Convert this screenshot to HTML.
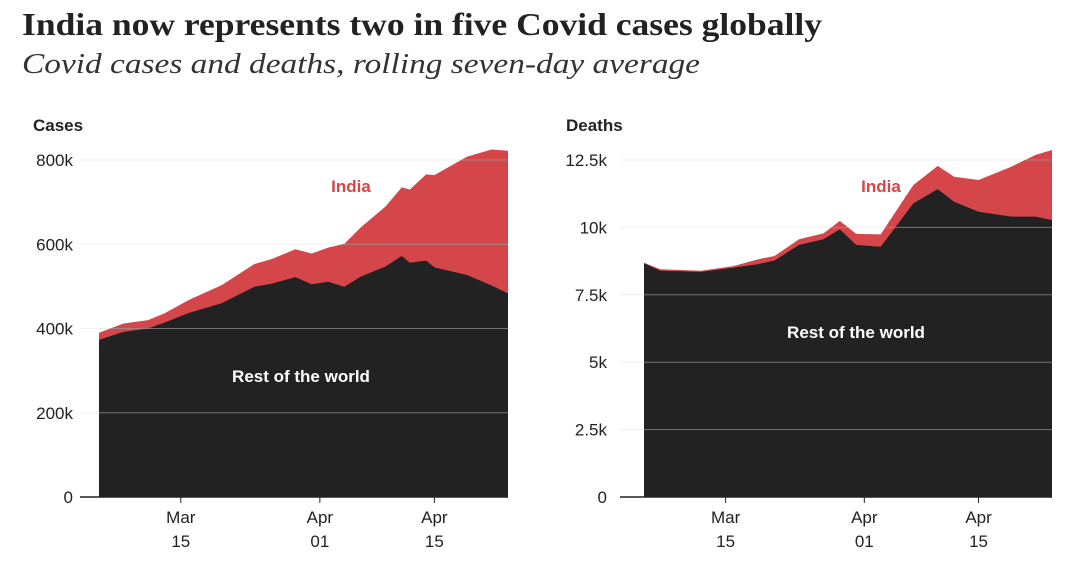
<!DOCTYPE html>
<html><head><meta charset="utf-8"><style>
body{margin:0;background:#fff;width:1080px;height:582px;overflow:hidden}
svg{display:block}
.t{font-family:"Liberation Serif",serif}
.a{font-family:"Liberation Sans",sans-serif;font-size:17px;fill:#222}
</style></head><body>
<svg id="s" width="1080" height="582">
<text class="t" x="22" y="35" font-size="32" font-weight="bold" fill="#222" textLength="800" lengthAdjust="spacingAndGlyphs">India now represents two in five Covid cases globally</text>
<text class="t" x="22" y="73" font-size="29" font-style="italic" fill="#333" textLength="678" lengthAdjust="spacingAndGlyphs">Covid cases and deaths, rolling seven-day average</text>
</svg>
<script>
// Day 0 = Mar 5
const casesDays=[0,3,6,8,11,15,19,21,24,26,28,30,32,35,37,38,40,41,45,48,50];
const casesRest=[373,392,400,414,437,460,499,506,522,505,511,499,523,547,572,556,561,545,527,502,483];
const casesTotal=[390,412,420,436,468,503,553,564,588,578,592,601,640,689,735,730,766,764,808,825,822];
const casesTicks=[0,200,400,600,800];
const casesTickLabels=["0","200k","400k","600k","800k"];
const deathsDays=[0,2,7,11,14,16,19,22,24,26,29,33,36,38,41,45,48,50];
const deathsRest=[8.67,8.39,8.35,8.51,8.64,8.77,9.35,9.56,9.93,9.35,9.28,10.89,11.42,10.95,10.58,10.40,10.40,10.27];
const deathsTotal=[8.69,8.45,8.39,8.57,8.82,8.94,9.56,9.78,10.24,9.76,9.74,11.57,12.28,11.88,11.76,12.25,12.69,12.87];
const deathsTicks=[0,2.5,5,7.5,10,12.5];
const deathsTickLabels=["0","2.5k","5k","7.5k","10k","12.5k"];
const dateDays=[10,27,41];
const dateLabels=[["Mar","15"],["Apr","01"],["Apr","15"]];

const svg=document.getElementById('s');
const NS="http://www.w3.org/2000/svg";
function mk(tag,attrs,parent){const e=document.createElementNS(NS,tag);for(const k in attrs)e.setAttribute(k,attrs[k]);(parent||svg).appendChild(e);return e;}
const defs=mk('defs',{});

function panel(o){
  const g=mk('g',{});
  
  
  const xs=d=>o.x0+d*(o.x1-o.x0)/50;
  const ys=v=>497-v/o.max*337;
  const t=mk('text',{x:o.labX,y:131,class:'a','font-weight':'bold'},g);t.textContent=o.title;
  
  
  o.ticks.forEach((v,i)=>{
    const l=mk('line',{x1:o.gx,x2:o.x1,y1:ys(v),y2:ys(v),stroke:'#f0f0f0','stroke-width':1},g);
    
    
    const tt=mk('text',{x:o.tx,y:ys(v)+6,class:'a','text-anchor':'end'},g);tt.textContent=o.tickLabels[i];
    
    
  });
  let p='M'+xs(o.days[0])+','+ys(0);
  o.days.forEach((d,i)=>p+=' L'+xs(d)+','+ys(o.total[i]));
  p+=' L'+xs(o.days[o.days.length-1])+','+ys(0)+'Z';
  const a1=mk('path',{d:p,fill:'#d4464a'},g);
  
  
  const cp=mk('clipPath',{id:'clip-'+o.name},defs);
  mk('path',{d:p},cp);
  p='M'+xs(o.days[0])+','+ys(0);
  o.days.forEach((d,i)=>p+=' L'+xs(d)+','+ys(o.rest[i]));
  p+=' L'+xs(o.days[o.days.length-1])+','+ys(0)+'Z';
  const a2=mk('path',{d:p,fill:'#222'},g);
  
  
  const og=mk('g',{'clip-path':'url(#clip-'+o.name+')'},g);
  o.ticks.forEach(v=>{if(v>0){const l=mk('line',{x1:xs(0),x2:o.x1,y1:ys(v),y2:ys(v),stroke:'#999','stroke-width':1,opacity:0.7},og);
    
    }});
  const ax=mk('line',{x1:o.gx,x2:o.x1,y1:497,y2:497,stroke:'#222','stroke-width':1.5},g);
  
  
  dateDays.forEach((d,i)=>{
    mk('line',{x1:xs(d),x2:xs(d),y1:497,y2:503,stroke:'#222'},g);
    const t1=mk('text',{x:xs(d),y:523,class:'a','text-anchor':'middle'},g);t1.textContent=dateLabels[i][0];
    
    
    const t2=mk('text',{x:xs(d),y:547,class:'a','text-anchor':'middle'},g);t2.textContent=dateLabels[i][1];
    
    
  });
  const li=mk('text',{x:o.indX,y:o.indY,class:'a','font-weight':'bold','text-anchor':'middle'},g);li.textContent='India';
  li.style.fill='#d4464a';
  
  
  const lr=mk('text',{x:o.rowX,y:o.rowY,class:'a','font-weight':'bold','text-anchor':'middle'},g);lr.textContent='Rest of the world';
  lr.style.fill='#fff';
  
  
}
panel({name:'cases-chart',title:'Cases',labX:33,x0:99,x1:508,gx:80,tx:73,max:800,days:casesDays,rest:casesRest,total:casesTotal,ticks:casesTicks,tickLabels:casesTickLabels,indX:351,indY:192,rowX:301,rowY:382});
panel({name:'deaths-chart',title:'Deaths',labX:566,x0:644,x1:1052,gx:620,tx:607,max:12.5,days:deathsDays,rest:deathsRest,total:deathsTotal,ticks:deathsTicks,tickLabels:deathsTickLabels,indX:881,indY:192,rowX:856,rowY:338});
</script>
</body></html>
